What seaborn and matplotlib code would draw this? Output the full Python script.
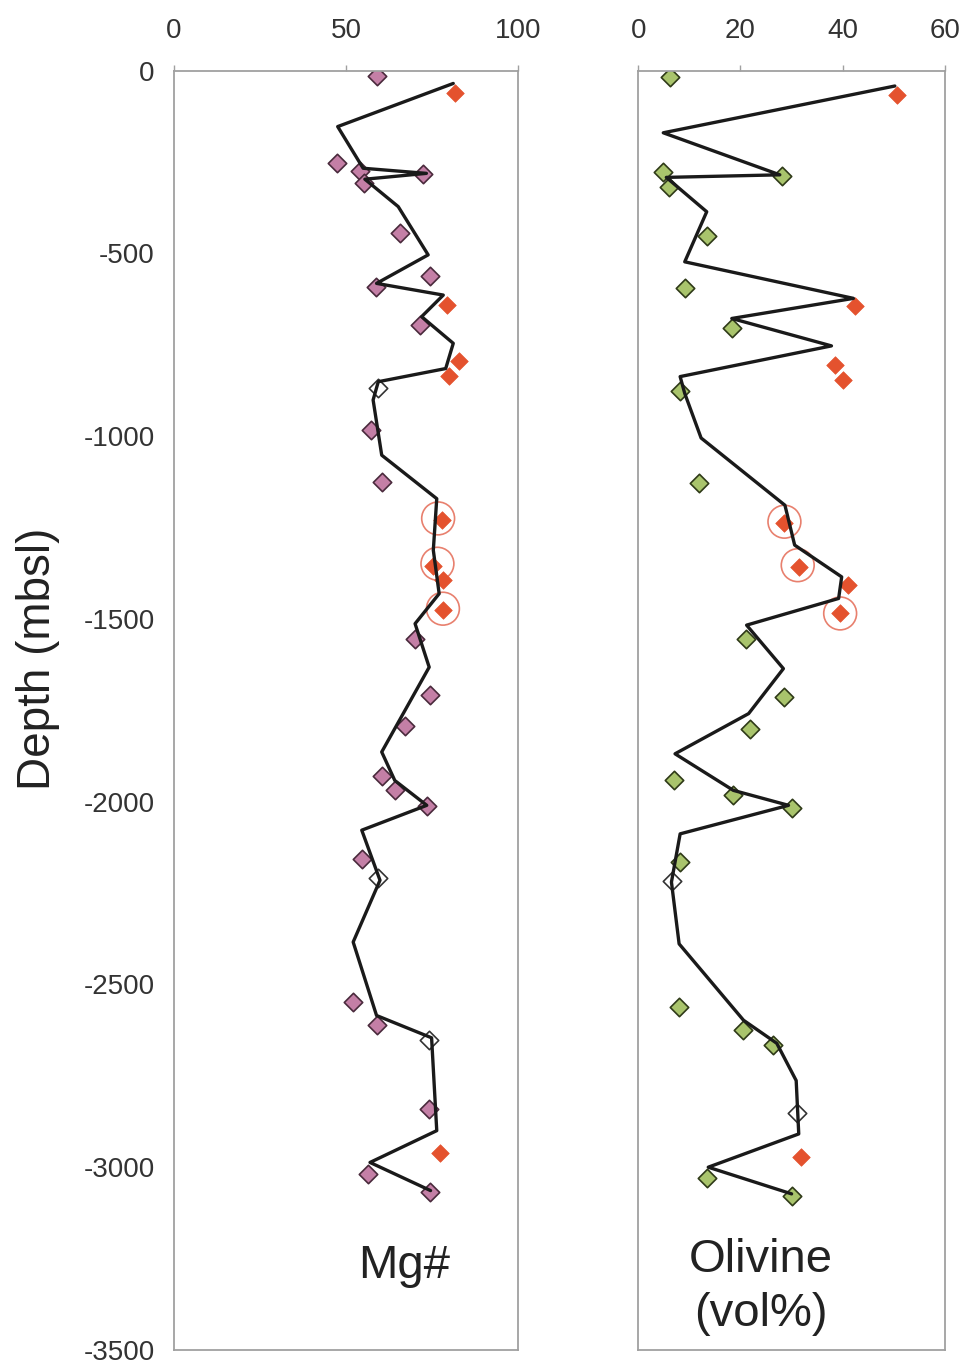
import numpy as np
import seaborn as sns
import matplotlib.pyplot as plt

# Mg# panel: sample points (filled), open symbols, red points, circled points, trend line
mg_depth = [-15, -252, -274, -283, -308, -443, -562, -591, -696, -983, -1125, -1554,
            -1707, -1794, -1930, -1969, -2011, -2156, -2549, -2612, -2840, -3018, -3069]
mg_value = [59.0, 47.3, 54.1, 72.5, 55.2, 65.7, 74.4, 58.7, 71.5, 57.3, 60.4, 70.1,
            74.4, 67.3, 60.4, 64.2, 73.7, 54.6, 52.1, 58.9, 74.2, 56.5, 74.4]
mg_open_depth = [-869, -2208, -2651]
mg_open_value = [59.4, 59.4, 74.2]
mg_red_depth = [-60, -641, -794, -836, -1230, -1356, -1394, -1476, -2962]
mg_red_value = [81.7, 79.3, 82.8, 80.0, 77.8, 75.2, 78.3, 78.1, 77.3]
mg_circle_depth = [-1225, -1349, -1472]
mg_circle_value = [76.8, 76.6, 78.2]
mg_line_depth = [-35, -153, -267, -281, -297, -372, -504, -582, -614, -673, -746, -815,
                 -851, -901, -1052, -1171, -1312, -1431, -1513, -1632, -1864, -1942,
                 -2010, -2078, -2215, -2384, -2585, -2646, -2900, -2987, -3064]
mg_line_value = [81.2, 47.6, 55.0, 73.4, 55.5, 65.2, 73.9, 58.9, 78.3, 72.0, 81.2, 79.0,
                 59.4, 57.9, 60.4, 76.4, 75.4, 77.1, 70.1, 74.2, 60.4, 64.2,
                 73.5, 54.6, 59.9, 52.1, 58.9, 74.9, 76.4, 57.0, 74.6]

# Olivine panel
ol_depth = [-18, -276, -288, -317, -452, -595, -705, -876, -1129, -1556, -1713, -1801,
            -1941, -1982, -2017, -2165, -2562, -2626, -2667, -3029, -3080]
ol_value = [6.2, 4.9, 28.2, 6.1, 13.5, 9.1, 18.3, 8.2, 11.9, 21.0, 28.5, 21.8,
            7.0, 18.6, 30.0, 8.2, 7.9, 20.4, 26.4, 13.4, 30.0]
ol_open_depth = [-2217, -2852]
ol_open_value = [6.7, 31.0]
ol_red_depth = [-66, -644, -805, -846, -1238, -1357, -1407, -1483, -2973]
ol_red_value = [50.7, 42.5, 38.5, 40.1, 28.5, 31.5, 41.1, 39.5, 31.8]
ol_circle_depth = [-1234, -1353, -1485]
ol_circle_value = [28.6, 31.2, 39.5]
ol_line_depth = [-42, -170, -285, -292, -386, -523, -623, -678, -753, -837, -883, -1005,
                 -1189, -1298, -1385, -1444, -1517, -1636, -1759, -1869, -1969, -2010,
                 -2088, -2220, -2389, -2598, -2661, -2763, -2909, -3000, -3073]
ol_line_value = [50.2, 4.9, 27.7, 5.5, 13.4, 9.1, 42.1, 18.3, 37.8, 8.2, 9.1, 12.3,
                 28.7, 30.6, 39.8, 39.2, 21.2, 28.4, 21.6, 7.2, 18.6, 29.4,
                 8.2, 6.5, 8.0, 20.6, 27.1, 30.9, 31.4, 13.7, 30.0]

depth_ticks = [0, -500, -1000, -1500, -2000, -2500, -3000, -3500]

sns.set_style('white')
plt.rcParams['font.family'] = ['Liberation Sans', 'DejaVu Sans']
plt.rcParams['axes.unicode_minus'] = False

fig = plt.figure(figsize=(9.67, 13.64), dpi=100)
ax1 = fig.add_axes([0.1799, 0.0103, 0.3557, 0.9379])
ax2 = fig.add_axes([0.6600, 0.0103, 0.3172, 0.9379])

red = '#e4522e'
circ = '#e8806e'
panels = [
    (ax1, mg_depth, mg_value, '#c47fa6', '#4a2a3c', mg_open_depth, mg_open_value,
     mg_red_depth, mg_red_value, mg_circle_depth, mg_circle_value,
     mg_line_depth, mg_line_value, (0, 100), [0, 50, 100]),
    (ax2, ol_depth, ol_value, '#a9c46c', '#2f3a18', ol_open_depth, ol_open_value,
     ol_red_depth, ol_red_value, ol_circle_depth, ol_circle_value,
     ol_line_depth, ol_line_value, (0, 60), [0, 20, 40, 60]),
]

for (ax, d, v, fill, edge, od, ov, rd, rv, cd, cv, ld, lv, xlim, xticks) in panels:
    sns.scatterplot(x=cv, y=cd, marker='o', s=560, color=circ, facecolors='none',
                    edgecolor=circ, linewidth=1.2, ax=ax, zorder=2)
    sns.scatterplot(x=v, y=d, marker='D', s=88, color=fill, edgecolor=edge,
                    linewidth=1.2, ax=ax, zorder=2)
    sns.scatterplot(x=ov, y=od, marker='D', s=88, color='white', edgecolor='#333333',
                    linewidth=1.2, ax=ax, zorder=2)
    sns.scatterplot(x=rv, y=rd, marker='D', s=80, color=red, edgecolor=red,
                    linewidth=0.5, ax=ax, zorder=2)
    sns.lineplot(x=lv, y=ld, sort=False, estimator=None, color='#1a1a1a', lw=2.4,
                 ax=ax, zorder=3)
    ax.set_xlim(*xlim)
    ax.set_ylim(-3500, 0)
    ax.set_xticks(xticks)
    ax.set_yticks(depth_ticks)
    ax.xaxis.tick_top()
    ax.tick_params(axis='x', which='both', direction='out', length=4, width=1,
                   color='#a0a0a0', labelsize=20, labelcolor='#333333', pad=15,
                   bottom=False, top=True)
    ax.tick_params(axis='y', direction='out', length=4, width=1, color='#a0a0a0',
                   labelsize=20, labelcolor='#333333', pad=10)
    ax.set_xlabel('')
    ax.set_ylabel('')
    for sp in ax.spines.values():
        sp.set_visible(True)
        sp.set_color('#a0a0a0')
        sp.set_linewidth(1.3)

ax2.set_yticklabels([])

ax1.text(0.67, 0.066, 'Mg#', transform=ax1.transAxes, ha='center', va='center',
         fontsize=34, color='#222222')
ax2.text(0.40, 0.049, 'Olivine\n(vol%)', transform=ax2.transAxes, ha='center',
         va='center', fontsize=34, color='#222222', linespacing=1.3)
fig.text(0.039, 0.517, 'Depth (mbsl)', rotation=90, ha='center', va='center',
         fontsize=33, color='#222222')

plt.savefig('out.png', dpi=100)
